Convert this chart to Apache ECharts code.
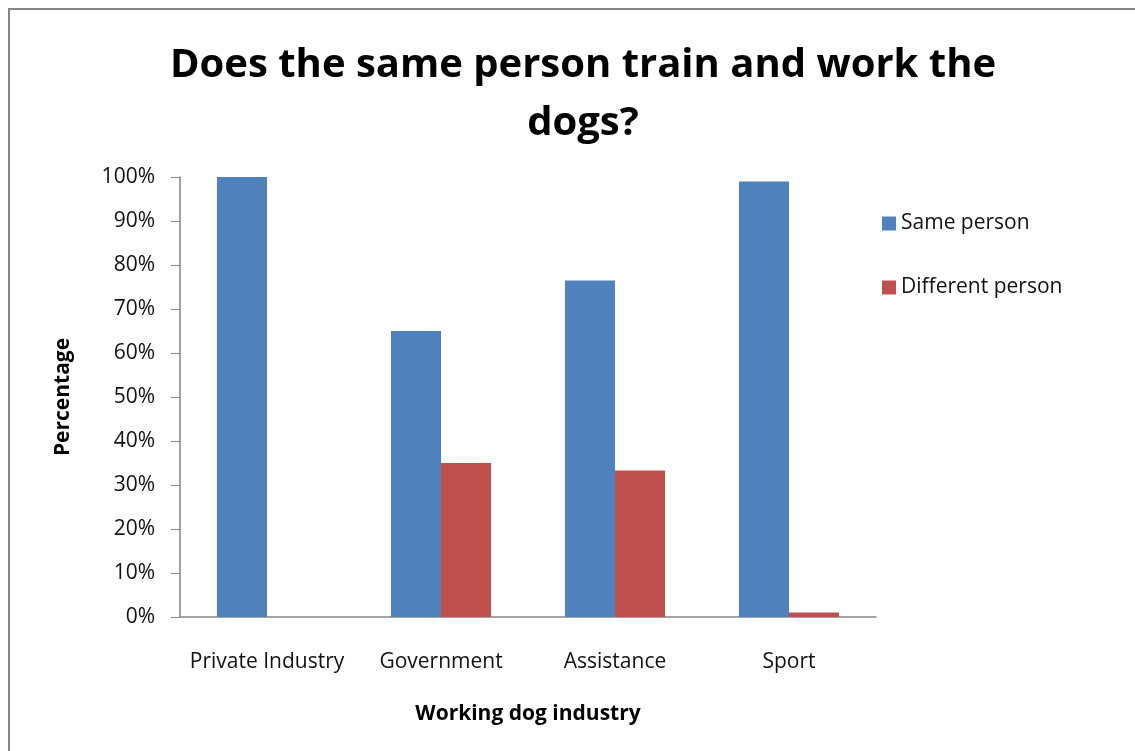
<!DOCTYPE html>
<html>
<head>
<meta charset="utf-8">
<script src="https://cdn.jsdelivr.net/npm/echarts@6/dist/echarts.min.js"></script>
<style>
  html, body { margin: 0; padding: 0; background: #fff; }
  #chart { width: 1135px; height: 751px; }
</style>
</head>
<body>
<div id="chart"></div>
<script>
// Survey results: who trains and who works the dogs, by industry
const categories = ['Private Industry', 'Government', 'Assistance', 'Sport'];
const samePerson = [100, 65, 76.5, 99];
const differentPerson = [0, 35, 33.3, 1];
const seriesNames = ['Same person', 'Different person'];
const titleText = 'Does the same person train and work the\ndogs?';
const yAxisTitle = 'Percentage';
const xAxisTitle = 'Working dog industry';

const FONT = '"Open Sans", sans-serif';
const chart = echarts.init(document.getElementById('chart'), null, { renderer: 'canvas' });

chart.setOption({
  backgroundColor: '#ffffff',
  animation: false,
  graphic: [{
    type: 'rect',
    shape: { x: 9, y: 9, width: 1140, height: 760 },
    style: { fill: 'none', stroke: '#868686', lineWidth: 2 },
    silent: true
  }],
  title: {
    text: titleText,
    left: 578,
    top: 32,
    textAlign: 'center',
    textStyle: {
      fontFamily: FONT,
      fontWeight: 'bold',
      fontSize: 40,
      lineHeight: 58,
      color: '#000'
    }
  },
  legend: {
    orient: 'vertical',
    left: 877,
    top: 208,
    itemWidth: 14,
    itemHeight: 14,
    itemGap: 43,
    icon: 'rect',
    textStyle: { fontFamily: FONT, fontSize: 21, color: '#111' },
    data: seriesNames
  },
  grid: { left: 180, right: 259, top: 177, bottom: 134, containLabel: false },
  xAxis: {
    type: 'category',
    data: categories,
    name: xAxisTitle,
    nameLocation: 'middle',
    nameGap: 87,
    nameTextStyle: { fontFamily: FONT, fontWeight: 'bold', fontSize: 21, color: '#000' },
    axisLine: { lineStyle: { color: '#868686', width: 1.5 } },
    axisTick: { show: false },
    axisLabel: {
      interval: 0, hideOverlap: false,
      fontFamily: FONT, fontSize: 21, color: '#111', margin: 35
    }
  },
  yAxis: {
    type: 'value',
    min: 0,
    max: 100,
    interval: 10,
    name: yAxisTitle,
    nameLocation: 'middle',
    nameGap: 106,
    nameRotate: 90,
    nameTextStyle: { fontFamily: FONT, fontWeight: 'bold', fontSize: 21, color: '#000' },
    axisLine: { show: true, lineStyle: { color: '#868686', width: 1.5 } },
    axisTick: { show: true, length: 9, inside: false, lineStyle: { color: '#868686' } },
    splitLine: { show: false },
    axisLabel: {
      fontFamily: FONT, fontSize: 21, color: '#111', margin: 25,
      formatter: v => v + '%'
    }
  },
  series: [
    {
      name: seriesNames[0],
      type: 'bar',
      data: samePerson,
      barGap: '0%',
      barCategoryGap: '42.5%',
      itemStyle: { color: '#4f81bd' }
    },
    {
      name: seriesNames[1],
      type: 'bar',
      data: differentPerson,
      itemStyle: { color: '#c0504d' }
    }
  ]
});
</script>
</body>
</html>
